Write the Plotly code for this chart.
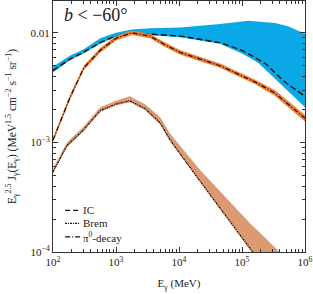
import plotly.graph_objects as go

# ---- data ----
ic_E = [100, 186, 302, 562, 891, 1660, 3160, 10500, 44700, 100000, 234000, 479000, 1000000]
ic_J = [0.00452, 0.00575, 0.00661, 0.00813, 0.00912, 0.00977, 0.00977, 0.00933, 0.00813,
        0.00692, 0.00525, 0.00355, 0.00263]

ic_band_E_hi = [100, 186, 309, 562, 1000, 1780, 3470, 10500, 44700, 126000, 331000, 537000, 1000000]
ic_band_hi = [0.0049, 0.00617, 0.00708, 0.00891, 0.0100, 0.0107, 0.0110, 0.0112, 0.0120,
              0.0129, 0.0123, 0.0115, 0.0098]
ic_band_E_lo = [100, 186, 302, 562, 891, 1660, 3160, 10500, 44700, 100000, 178000, 398000, 1000000]
ic_band_lo = [0.00437, 0.00562, 0.00646, 0.00794, 0.00891, 0.00955, 0.00955, 0.00912, 0.00794,
              0.00646, 0.00537, 0.00347, 0.00209]

pi_E = [100, 186, 309, 562, 1000, 1780, 3470, 5620, 10500, 44700, 162000, 331000, 617000, 1000000]
pi_J = [0.00105, 0.00257, 0.00479, 0.00692, 0.00891, 0.0100, 0.00933, 0.00794, 0.00661,
        0.00501, 0.00355, 0.00282, 0.00209, 0.00166]
pi_hi = [0.00110, 0.00270, 0.00502, 0.00725, 0.00933, 0.0105, 0.00977, 0.00832, 0.00692,
         0.00525, 0.00372, 0.00300, 0.00224, 0.00178]
pi_lo = [0.00100, 0.00245, 0.00457, 0.00661, 0.00851, 0.00955, 0.00891, 0.00759, 0.00631,
         0.00479, 0.00339, 0.00266, 0.00195, 0.00155]

br_E = [100, 166, 302, 562, 1000, 1660, 2240, 2880, 5010, 7240, 19500, 57500, 148000, 398000, 1000000]
br_J = [0.000537, 0.000933, 0.00129, 0.00195, 0.00224, 0.00240, 0.00219, 0.00204, 0.00151,
        0.00105, 0.000479, 0.000209, 0.000100, 0.0000501, 0.0000251]
br_lo = [0.000520, 0.000905, 0.00125, 0.00189, 0.00217, 0.00233, 0.00212, 0.00198, 0.00146,
         0.00102, 0.000465, 0.000203, 0.0000970, 0.0000486, 0.0000243]
br_E_hi = [100, 166, 302, 562, 1000, 1660, 2240, 2880, 5010, 7240, 21400, 64600, 135000, 398000, 1000000]
br_hi = [0.000575, 0.00100, 0.00138, 0.00209, 0.00240, 0.00263, 0.00240, 0.00224, 0.00170,
         0.00120, 0.000562, 0.000282, 0.000182, 0.000100, 0.0000603]

x_tickvals = [1e2, 1e3, 1e4, 1e5, 1e6]
x_ticktext = ["10<sup>2</sup>", "10<sup>3</sup>", "10<sup>4</sup>", "10<sup>5</sup>", "10<sup>6</sup>"]
x_minor = [m * d for d in [1e2, 1e3, 1e4, 1e5] for m in range(2, 10)]
y_tickvals = [1e-4, 1e-3, 1e-2]
y_ticktext = ["10<sup>−4</sup>", "10<sup>−3</sup>", "0.01"]
y_minor = [m * d for d in [1e-4, 1e-3, 1e-2] for m in range(2, 10)]

BLUE = "#0aa8e6"
ORANGE = "#f47c30"
TAN = "#dc9a72"
FONT = "Liberation Serif"

fig = go.Figure()

def band(Ehi, hi, Elo, lo, color):
    fig.add_trace(go.Scatter(x=list(Ehi) + list(Elo)[::-1], y=list(hi) + list(lo)[::-1],
                             fill="toself", fillcolor=color, mode="lines",
                             line=dict(width=0, color=color), showlegend=False,
                             hoverinfo="skip"))

band(ic_band_E_hi, ic_band_hi, ic_band_E_lo, ic_band_lo, BLUE)
fig.add_trace(go.Scatter(x=ic_E, y=ic_J, mode="lines", showlegend=False,
                         line=dict(color="#111", width=1.4, dash="6px,3px")))
band(pi_E, pi_hi, pi_E, pi_lo, ORANGE)
fig.add_trace(go.Scatter(x=pi_E, y=pi_J, mode="lines", showlegend=False,
                         line=dict(color="#111", width=1.2, dash="5px,2px,1px,2px")))
band(br_E_hi, br_hi, br_E, br_lo, TAN)
fig.add_trace(go.Scatter(x=br_E, y=br_J, mode="lines", showlegend=False,
                         line=dict(color="#111", width=1.2, dash="2px,1px,1px,1px")))

# legend (drawn manually for compact layout)
leg_rows = [("IC", "5px,3px", 0.166), ("Brem", "2px,1px,1px,1px", 0.114), ("π<sup>0</sup>-decay", "5px,2px,1px,2px", 0.060)]
for label, dash, yy in leg_rows:
    fig.add_shape(type="line", xref="paper", yref="paper", x0=0.048, x1=0.108, y0=yy, y1=yy,
                  line=dict(color="#111", width=1.3, dash=dash))
    fig.add_annotation(x=0.112, y=yy, xref="paper", yref="paper", text=label, showarrow=False,
                       xanchor="left", yanchor="middle", font=dict(family=FONT, size=11, color="#222"))

fig.add_annotation(x=0.035, y=0.945, xref="paper", yref="paper",
                   text="<i>b</i> &lt; −60°", showarrow=False, xanchor="left", yanchor="middle",
                   font=dict(family=FONT, size=18, color="#222"))

axis_common = dict(showline=True, linecolor="#333", linewidth=1, mirror="ticks",
                   ticks="inside", ticklen=5, tickcolor="#333", showgrid=False, zeroline=False,
                   automargin=False,
                   tickfont=dict(family=FONT, size=11, color="#222"))

fig.update_xaxes(type="log", range=[2, 6], tickvals=x_tickvals, ticktext=x_ticktext,
                 minor=dict(ticks="inside", ticklen=3, tickcolor="#333", showgrid=False, tickvals=x_minor),
                 title=dict(text="E<sub>γ</sub> (MeV)", font=dict(family=FONT, size=11, color="#222"),
                            standoff=12),
                 **axis_common)
fig.update_yaxes(type="log", range=[-4, -1.71], tickvals=y_tickvals, ticktext=y_ticktext,
                 minor=dict(ticks="inside", ticklen=3, tickcolor="#333", showgrid=False, tickvals=y_minor),
                 title=dict(text="E<sub>γ</sub><sup>2.5</sup> J<sub>γ</sub>(E<sub>γ</sub>) (MeV<sup>1.5</sup> cm<sup>−2</sup> s<sup>−1</sup> sr<sup>−1</sup>)",
                            font=dict(family=FONT, size=11.5, color="#222"), standoff=11),
                 **axis_common)

fig.update_layout(width=313, height=294, margin=dict(l=53, r=8, t=1, b=42),
                  plot_bgcolor="white", paper_bgcolor="white", showlegend=False)

fig.write_html("out.html", config={"displayModeBar": False},
               post_script="document.body.style.margin='0';")
